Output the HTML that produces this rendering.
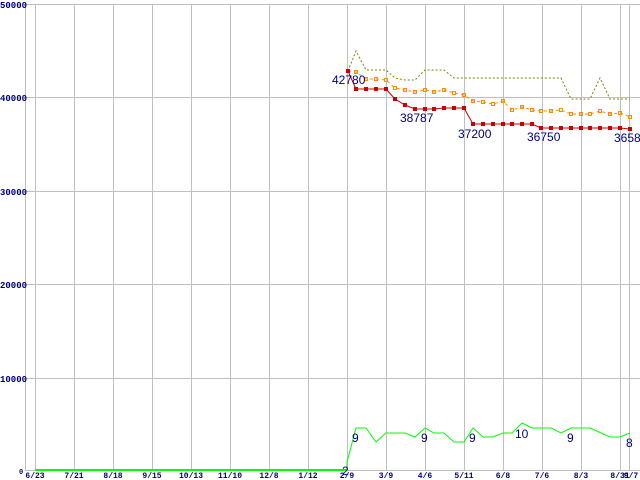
<!DOCTYPE html>
<html><head><style>body{margin:0;background:#fff}svg{display:block}</style></head><body>
<svg width="640" height="480" xmlns="http://www.w3.org/2000/svg" font-family="Liberation Sans, sans-serif">
<g stroke="#c0c0c0" stroke-width="1">
<line x1="25.5" y1="4" x2="25.5" y2="471"/>
<line x1="25" y1="4.5" x2="640" y2="4.5"/>
<line x1="25" y1="97.5" x2="640" y2="97.5"/>
<line x1="25" y1="191.5" x2="640" y2="191.5"/>
<line x1="25" y1="284.5" x2="640" y2="284.5"/>
<line x1="25" y1="378.5" x2="640" y2="378.5"/>
<line x1="25" y1="470.5" x2="640" y2="470.5"/>
<line x1="35.5" y1="4" x2="35.5" y2="471"/><line x1="74.5" y1="4" x2="74.5" y2="471"/><line x1="113.5" y1="4" x2="113.5" y2="471"/><line x1="152.5" y1="4" x2="152.5" y2="471"/><line x1="191.5" y1="4" x2="191.5" y2="471"/><line x1="230.5" y1="4" x2="230.5" y2="471"/><line x1="269.5" y1="4" x2="269.5" y2="471"/><line x1="308.5" y1="4" x2="308.5" y2="471"/><line x1="347.5" y1="4" x2="347.5" y2="471"/><line x1="386.5" y1="4" x2="386.5" y2="471"/><line x1="425.5" y1="4" x2="425.5" y2="471"/><line x1="464.5" y1="4" x2="464.5" y2="471"/><line x1="503.5" y1="4" x2="503.5" y2="471"/><line x1="542.5" y1="4" x2="542.5" y2="471"/><line x1="581.5" y1="4" x2="581.5" y2="471"/><line x1="620.5" y1="4" x2="620.5" y2="471"/><line x1="629.5" y1="4" x2="629.5" y2="471"/>
</g>
<g font-family="Liberation Mono, monospace" font-weight="bold" font-size="9" fill="#000080">
<text x="0" y="8">50000</text><text x="0" y="101">40000</text><text x="0" y="195">30000</text><text x="0" y="288">20000</text><text x="0" y="382">10000</text><text x="19" y="474" font-size="7">0</text>
<g text-anchor="middle" font-size="8">
<text x="35" y="478">6/23</text><text x="74" y="478">7/21</text><text x="113" y="478">8/18</text><text x="152" y="478">9/15</text><text x="191" y="478">10/13</text><text x="230" y="478">11/10</text><text x="269" y="478">12/8</text><text x="308" y="478">1/12</text><text x="347" y="478">2/9</text><text x="386" y="478">3/9</text><text x="425" y="478">4/6</text><text x="464" y="478">5/11</text><text x="503" y="478">6/8</text><text x="542" y="478">7/6</text><text x="581" y="478">8/3</text><text x="620" y="478">8/31</text><text x="631" y="478">9/7</text>
</g></g>
<polyline fill="none" stroke="#00ff00" stroke-width="2" points="35,470 347,470"/>
<polyline fill="none" stroke="#00ff00" stroke-width="1" points="347,469 347,462 356,428 366,428 376,442 386,433 405,433 415,437 425,428 434,433 444,433 454,442 464,442 473,428 483,437 493,437 503,433 512,433 522,423 532,428 551,428 561,433 571,428 590,428 610,437 620,437 630,433"/>
<polyline fill="none" stroke="#808000" stroke-width="1" stroke-dasharray="2,2" points="348,71 356,51 366,70 376,70 386,70 395,78 405,80 415,80 425,70 434,70 444,70 454,78 561,78 571,99 590,99 600,78 610,99 630,99"/>
<polyline fill="none" stroke="#ff8c00" stroke-width="1" stroke-dasharray="3,3" points="348,71 356,72 366,79 376,79 386,80 395,88 405,90 415,92 425,90 434,92 444,90 454,93 464,95 473,101 483,102 493,104 503,101 512,110 522,107 532,110 541,111 551,111 561,110 571,114 581,114 590,114 600,111 610,114 620,113 630,117"/>
<g fill="none" stroke="#ff8c00" stroke-width="1">
<rect x="354.5" y="70.5" width="3" height="3"/><rect x="364.5" y="77.5" width="3" height="3"/><rect x="374.5" y="77.5" width="3" height="3"/><rect x="384.5" y="78.5" width="3" height="3"/><rect x="393.5" y="86.5" width="3" height="3"/><rect x="403.5" y="88.5" width="3" height="3"/><rect x="413.5" y="90.5" width="3" height="3"/><rect x="423.5" y="88.5" width="3" height="3"/><rect x="432.5" y="90.5" width="3" height="3"/><rect x="442.5" y="88.5" width="3" height="3"/><rect x="452.5" y="91.5" width="3" height="3"/><rect x="462.5" y="93.5" width="3" height="3"/><rect x="471.5" y="99.5" width="3" height="3"/><rect x="481.5" y="100.5" width="3" height="3"/><rect x="491.5" y="102.5" width="3" height="3"/><rect x="501.5" y="99.5" width="3" height="3"/><rect x="510.5" y="108.5" width="3" height="3"/><rect x="520.5" y="105.5" width="3" height="3"/><rect x="530.5" y="108.5" width="3" height="3"/><rect x="539.5" y="109.5" width="3" height="3"/><rect x="549.5" y="109.5" width="3" height="3"/><rect x="559.5" y="108.5" width="3" height="3"/><rect x="569.5" y="112.5" width="3" height="3"/><rect x="579.5" y="112.5" width="3" height="3"/><rect x="588.5" y="112.5" width="3" height="3"/><rect x="598.5" y="109.5" width="3" height="3"/><rect x="608.5" y="112.5" width="3" height="3"/><rect x="618.5" y="111.5" width="3" height="3"/><rect x="628.5" y="115.5" width="3" height="3"/>
</g>
<polyline fill="none" stroke="#cc0000" stroke-width="1" points="348,71 356,89 366,89 376,89 386,89 395,99 405,105 415,109 425,109 434,109 444,108 454,108 464,108 473,124 483,124 493,124 503,124 512,124 522,124 532,124 541,128 551,128 561,128 571,128 581,128 590,128 600,128 610,128 620,128 630,129"/>
<g fill="#cc0000">
<rect x="346" y="69" width="4" height="4"/><rect x="354" y="87" width="4" height="4"/><rect x="364" y="87" width="4" height="4"/><rect x="374" y="87" width="4" height="4"/><rect x="384" y="87" width="4" height="4"/><rect x="393" y="97" width="4" height="4"/><rect x="403" y="103" width="4" height="4"/><rect x="413" y="107" width="4" height="4"/><rect x="423" y="107" width="4" height="4"/><rect x="432" y="107" width="4" height="4"/><rect x="442" y="106" width="4" height="4"/><rect x="452" y="106" width="4" height="4"/><rect x="462" y="106" width="4" height="4"/><rect x="471" y="122" width="4" height="4"/><rect x="481" y="122" width="4" height="4"/><rect x="491" y="122" width="4" height="4"/><rect x="501" y="122" width="4" height="4"/><rect x="510" y="122" width="4" height="4"/><rect x="520" y="122" width="4" height="4"/><rect x="530" y="122" width="4" height="4"/><rect x="539" y="126" width="4" height="4"/><rect x="549" y="126" width="4" height="4"/><rect x="559" y="126" width="4" height="4"/><rect x="569" y="126" width="4" height="4"/><rect x="579" y="126" width="4" height="4"/><rect x="588" y="126" width="4" height="4"/><rect x="598" y="126" width="4" height="4"/><rect x="608" y="126" width="4" height="4"/><rect x="618" y="126" width="4" height="4"/><rect x="628" y="127" width="4" height="4"/>
</g>
<g fill="#000080" font-size="12">
<text x="332" y="84">42780</text><text x="400" y="122">38787</text><text x="458" y="138">37200</text><text x="527" y="141">36750</text><text x="614" y="142">36580</text>
<text x="342" y="475">2</text><text x="352" y="442">9</text><text x="421" y="442">9</text><text x="469" y="442">9</text><text x="515" y="438">10</text><text x="567" y="442">9</text><text x="626" y="447">8</text>
</g>
</svg>
</body></html>
